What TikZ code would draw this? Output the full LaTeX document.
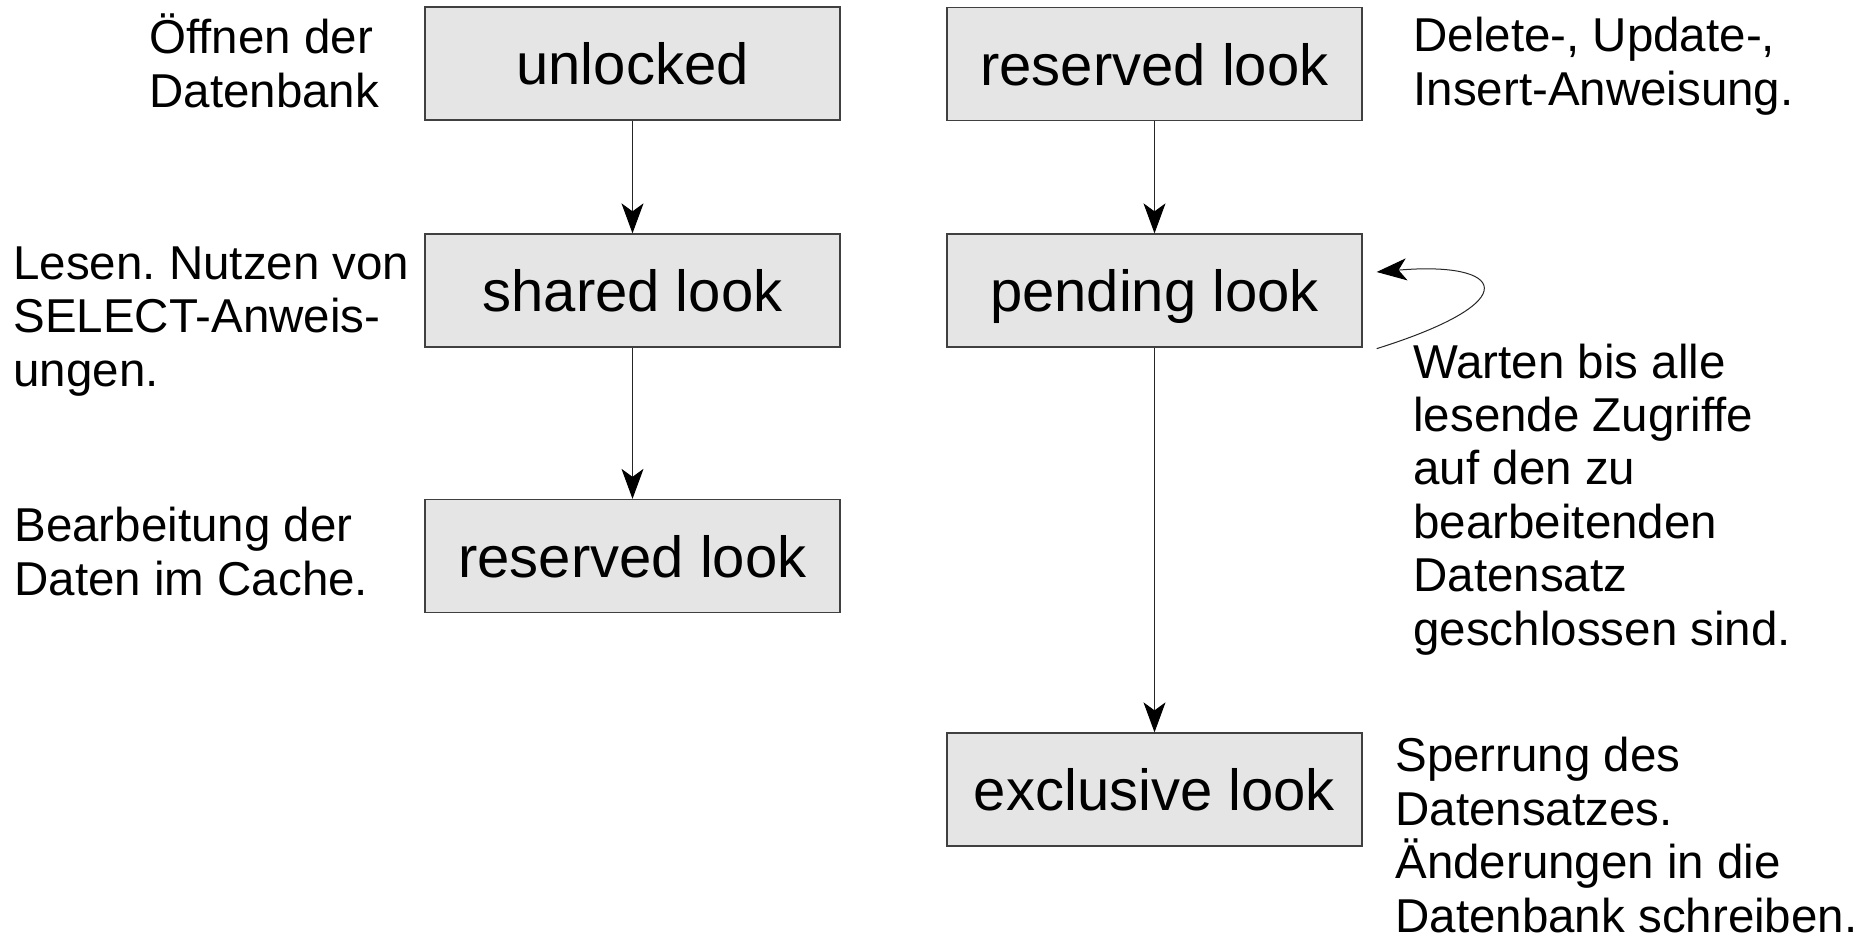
\documentclass[tikz,border=0pt]{standalone}
\usepackage{fontspec}
\setmainfont{Liberation Sans}
\usetikzlibrary{arrows.meta}
\frenchspacing

\begin{document}
\begin{tikzpicture}[
  x=0.5pt, y=-0.5pt,
  state/.style={draw=black!75, line width=0.65pt, fill=black!10,
    minimum width=207.5pt, minimum height=56.5pt, inner sep=0pt,
    text depth=0pt, font=\fontsize{29}{33}\selectfont},
  % anchored at the baseline of the last line
  note/.style={anchor=base west, inner sep=0pt, align=left,
    font=\fontsize{23.75}{26.7}\selectfont},
  flow/.style={draw=black!85, line width=0.5pt,
    -{Stealth[length=15pt, width=11pt, inset=4pt, black]}},
]
\useasboundingbox (0,0) rectangle (1866,942);

% lock states, left column
\node[state] (unlocked)  at (632.5, 63.5)  {unlocked};
\node[state] (shared)    at (632.5, 290.5) {shared look};
\node[state] (reservedA) at (632.5, 556)   {reserved look};

% lock states, right column
\node[state] (reservedB) at (1154.5, 64)    {reserved look};
\node[state] (pending)   at (1154.5, 290.5) {pending look};
\node[state] (exclusive) at (1154.5, 789.5) {exclusive look};

% transitions
\draw[flow] (unlocked.south)  -- (shared.north);
\draw[flow] (shared.south)    -- (reservedA.north);
\draw[flow] (reservedB.south) -- (pending.north);
\draw[flow] (pending.south)   -- (exclusive.north);

% waiting loop on the pending state
\draw[flow] ([xshift=7pt, yshift=-0.5pt]pending.south east)
  .. controls +(153,-48) and +(127,-11) ..
  ([xshift=7pt, yshift=9.25pt]pending.east);

% explanations
\node[note] (n1) at (149, 107)  {Öffnen der\\Datenbank};
\node[note] (n2) at (13, 386)   {Lesen. Nutzen von\\SELECT-Anweis-\\ungen.};
\node[note] (n3) at (14, 595)   {Bearbeitung der\\Daten im Cache.};
\node[note] (n4) at (1413, 105) {Delete-, Update-,\\Insert-Anweisung.};
\node[note] (n5) at (1413, 645) {Warten bis alle\\lesende Zugriffe\\auf den zu\\bearbeitenden\\Datensatz\\geschlossen sind.};
\node[note] (n6) at (1395, 932) {Sperrung des\\Datensatzes.\\Änderungen in die\\Datenbank schreiben.};
\end{tikzpicture}
\end{document}
